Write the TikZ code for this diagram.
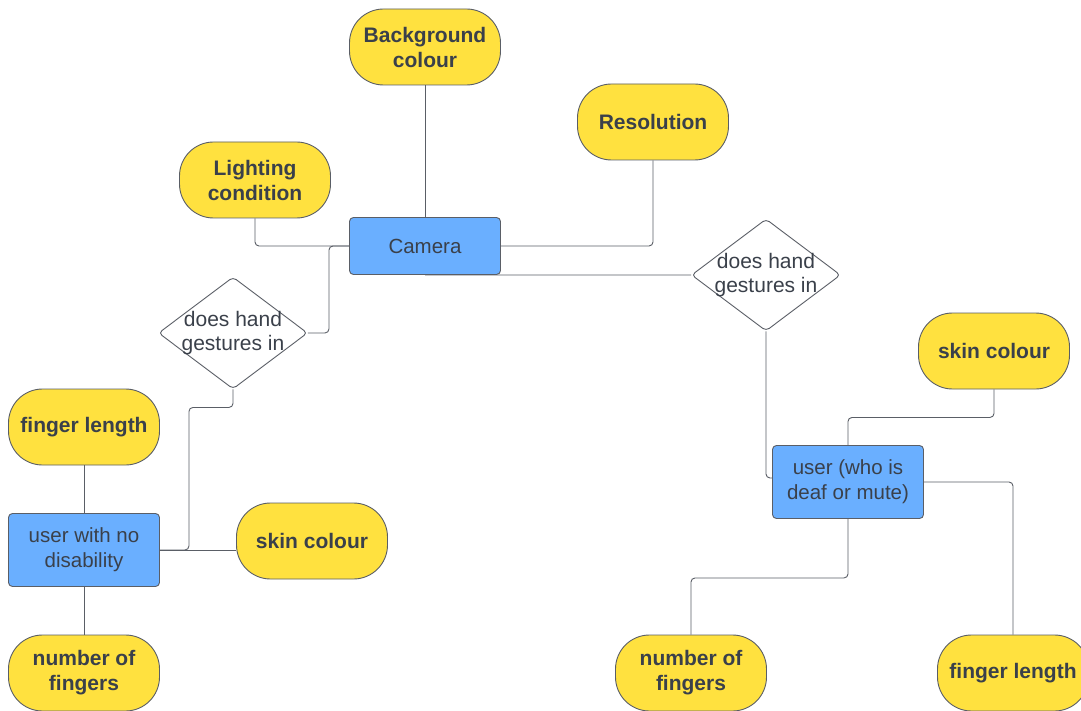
\documentclass[tikz,border=0pt]{standalone}
\usepackage{fontspec}
\setmainfont{Liberation Sans}
\usepackage{tikz}
\usetikzlibrary{shapes.geometric}
\usetikzlibrary{calc}
\definecolor{pillyellow}{HTML}{FFE13F}
\definecolor{boxblue}{HTML}{6AAFFF}
\definecolor{edgegray}{HTML}{5A5E66}
\definecolor{inkgray}{HTML}{3A404A}
\tikzset{node style pill/.style={rectangle, rounded corners=34pt, draw=edgegray, line width=0.9pt, fill=pillyellow,
           minimum width=151pt, minimum height=76pt, align=center, text=inkgray,
           font=\fontsize{21}{25}\selectfont\bfseries},
         node style box/.style={rectangle, rounded corners=4pt, draw=edgegray, line width=0.9pt, fill=boxblue,
           minimum width=151pt, minimum height=57pt, align=center, text=inkgray,
           font=\fontsize{20.5}{25}\selectfont},
         node style dia/.style={diamond, rounded corners=4pt, draw=edgegray, line width=0.9pt, fill=white,
           minimum width=149pt, minimum height=112pt, inner sep=0pt},
         dia text/.style={text=inkgray, font=\fontsize{21}{24}\selectfont, align=center},
         link/.style={draw=edgegray, line width=0.9pt, rounded corners=4pt}}

\begin{document}
\begin{tikzpicture}[x=1pt,y=-1pt]
   \useasboundingbox[fill=white] (0,0) rectangle (1081,711);

   % camera and its settings
   \node (cam) [node style box] at (425,246) {Camera};
   \node (bg) [node style pill] at (425,47) {Background\\colour};
   \node (res) [node style pill] at (653,122) {Resolution};
   \node (light) [node style pill] at (255,180) {Lighting\\condition};

   % the two questions
   \node (ldia) [node style dia, label={[dia text]center:does hand\\gestures in}] at (233,333) {};
   \node (rdia) [node style dia, label={[dia text]center:does hand\\gestures in}] at (766,275) {};

   % left user
   \node (unodis) [node style box, minimum height=73pt] at (84,550) {user with no\\disability};
   \node (fingL) [node style pill] at (84,427) {finger length};
   \node (skinL) [node style pill] at (312,541) {skin colour};
   \node (numL) [node style pill] at (84,673) {number of\\fingers};

   % right user
   \node (uright) [node style box, minimum height=73pt] at (848,482) {user (who is\\deaf or mute)};
   \node (skinR) [node style pill] at (994,351) {skin colour};
   \node (numR) [node style pill] at (691,673) {number of\\fingers};
   \node (fingR) [node style pill] at (1013,673) {finger length};

   \draw [link] (bg.south) -- (cam.north);
   \draw [link] (res.south) |- (cam.east);
   \draw [link] (light.south) |- (cam.west);
   \draw [link] (ldia.east) -- ++(21,0) |- (cam.west);
   \draw [link] (cam.south) -- (rdia.west);
   \draw [link] (rdia.south) |- ($(uright.west)+(0,-4)$);
   \draw [link] (ldia.south) -- ++(0,18) -| ($(unodis.east)+(29,0)$) -- (unodis.east);
   \draw [link] (unodis.east) -- (skinL.west |- unodis.east);
   \draw [link] (fingL.south) -- (unodis.north);
   \draw [link] (unodis.south) -- (numL.north);
   \draw [link] (skinR.south) -- ++(0,28) -| (uright.north);
   \draw [link] (uright.south) -- ++(0,59) -| (numR.north);
   \draw [link] (uright.east) -| (fingR.north);
\end{tikzpicture}
\end{document}
